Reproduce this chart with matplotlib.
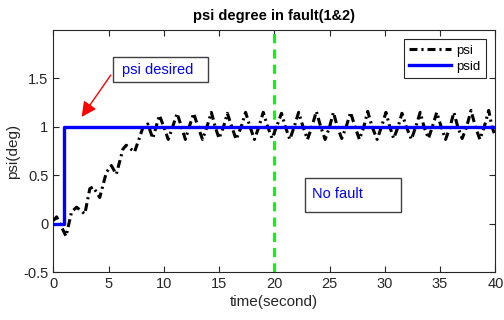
import matplotlib
matplotlib.use("Agg")
from matplotlib import pyplot as plt
from matplotlib.patches import Rectangle

plt.rcParams['font.family'] = ['Liberation Sans', 'DejaVu Sans']

# psi (extrema and mid crossings)
psi_time = [0.0, 0.3, 0.6, 1.15, 1.65, 2.1, 2.85, 3.3, 3.6, 4.2, 4.8, 5.25, 5.7, 6.3, 6.6, 7.35,
            8.1, 8.55, 9.0, 9.6,
            10.0, 10.4, 10.8, 11.2, 11.6, 11.95, 12.3, 12.7, 13.1, 13.5, 13.9, 14.3, 14.65, 15.0,
            15.4, 15.75, 16.15, 16.55, 17.0, 17.4, 17.8, 18.2, 18.6, 19.0, 19.4, 19.8, 20.2, 20.65,
            21.0, 21.4, 21.8, 22.2, 22.6, 23.0, 23.4, 23.8, 24.2, 24.6, 25.0, 25.35, 25.7, 26.1,
            26.5, 26.9, 27.3, 27.7, 28.1, 28.45, 28.85, 29.3, 29.7, 30.1, 30.45, 30.8, 31.2, 31.55,
            31.95, 32.4, 32.8, 33.2, 33.55, 33.95, 34.3, 34.7, 35.1, 35.5, 35.9, 36.25, 36.6, 37.0,
            37.4, 37.8, 38.2, 38.6, 39.0, 39.4, 39.7, 40.0]
psi_value = [0.03, 0.07, 0.0, -0.13, 0.12, 0.17, 0.10, 0.36, 0.38, 0.27, 0.53, 0.60, 0.51, 0.77, 0.81, 0.74,
             0.99, 1.03, 0.88, 1.12,
             1.0, 0.87, 1.0, 1.14, 1.0, 0.87, 1.0, 1.14, 1.0, 0.87, 1.0, 1.15, 1.0, 0.88,
             1.0, 1.14, 1.0, 0.87, 1.0, 1.15, 1.0, 0.87, 1.0, 1.15, 1.0, 0.88, 1.0, 1.14,
             1.0, 0.87, 1.0, 1.15, 1.0, 0.87, 1.0, 1.16, 1.0, 0.87, 1.0, 1.15, 1.0, 0.88,
             1.0, 1.15, 1.0, 0.87, 1.0, 1.16, 1.0, 0.87, 1.0, 1.15, 1.0, 0.88, 1.0, 1.14,
             1.0, 0.87, 1.0, 1.15, 1.0, 0.88, 1.0, 1.15, 1.0, 0.87, 1.0, 1.15, 1.0, 0.88,
             1.0, 1.17, 1.0, 0.87, 1.0, 1.17, 1.0, 0.90]

# desired psi (step at t=1)
psid_time = [0.0, 1.0, 1.0, 40.0]
psid_value = [0.0, 0.0, 1.0, 1.0]

fault_time = 20
x_ticks = [0, 5, 10, 15, 20, 25, 30, 35, 40]
y_ticks = [-0.5, 0, 0.5, 1, 1.5]
y_tick_labels = ['-0.5', '0', '0.5', '1', '1.5']

dark = '#262626'

fig = plt.figure(figsize=(5.04, 3.2), dpi=100)
ax = fig.add_axes([0.1058, 0.15, 0.877, 0.756])

ax.plot(psi_time, psi_value, color='black', linewidth=2.2, solid_joinstyle='round',
        dash_joinstyle='round', dash_capstyle='butt',
        linestyle=(0, (2.6, 1.3, 0.7, 1.3)), label='psi', zorder=3)
ax.plot(psid_time, psid_value, color='#0000ff', linewidth=2.4, label='psid', zorder=4)
ax.axvline(fault_time, color='#00ff00', linewidth=2.2, linestyle=(0, (3, 2)), zorder=2)

ax.set_xlim(0, 40)
ax.set_ylim(-0.5, 2.0)
ax.set_xticks(x_ticks)
ax.set_yticks(y_ticks)
ax.set_yticklabels(y_tick_labels)
ax.tick_params(direction='in', length=4, top=True, right=True, labelsize=10.5,
               colors=dark, width=0.8)
for s in ax.spines.values():
    s.set_color(dark)
    s.set_linewidth(0.8)

ax.set_xlabel('time(second)', fontsize=11, color=dark, labelpad=3)
ax.set_ylabel('psi(deg)', fontsize=11, color=dark, labelpad=2)
ax.set_title('psi degree in fault(1&2)', fontsize=10.5, fontweight='bold', pad=7)

# text boxes
ax.add_patch(Rectangle((5.43, 1.462), 8.54, 0.26, fill=False, edgecolor='#404040',
                       linewidth=1.0, zorder=5))
ax.text(6.19, 1.59, 'psi desired', color='#0000ff', fontsize=10.5, va='center', ha='left', zorder=6)
ax.add_patch(Rectangle((22.78, 0.119), 8.66, 0.354, fill=False, edgecolor='#404040',
                       linewidth=1.0, zorder=5))
ax.text(23.44, 0.308, 'No fault', color='#0000ff', fontsize=10.5, va='center', ha='left', zorder=6)

ax.annotate('', xy=(2.42, 1.079), xytext=(5.34, 1.558),
            arrowprops=dict(arrowstyle='-|>,head_length=0.9,head_width=0.45',
                            color='red', linewidth=1.0), zorder=6)

leg = ax.legend(loc='upper right', fontsize=9.5, fancybox=False, edgecolor=dark,
                handlelength=3.2, borderaxespad=0.7, framealpha=1, borderpad=0.4,
                labelspacing=0.3, handletextpad=0.4)
leg.get_frame().set_linewidth(0.8)

fig.savefig('out.png', dpi=100)
